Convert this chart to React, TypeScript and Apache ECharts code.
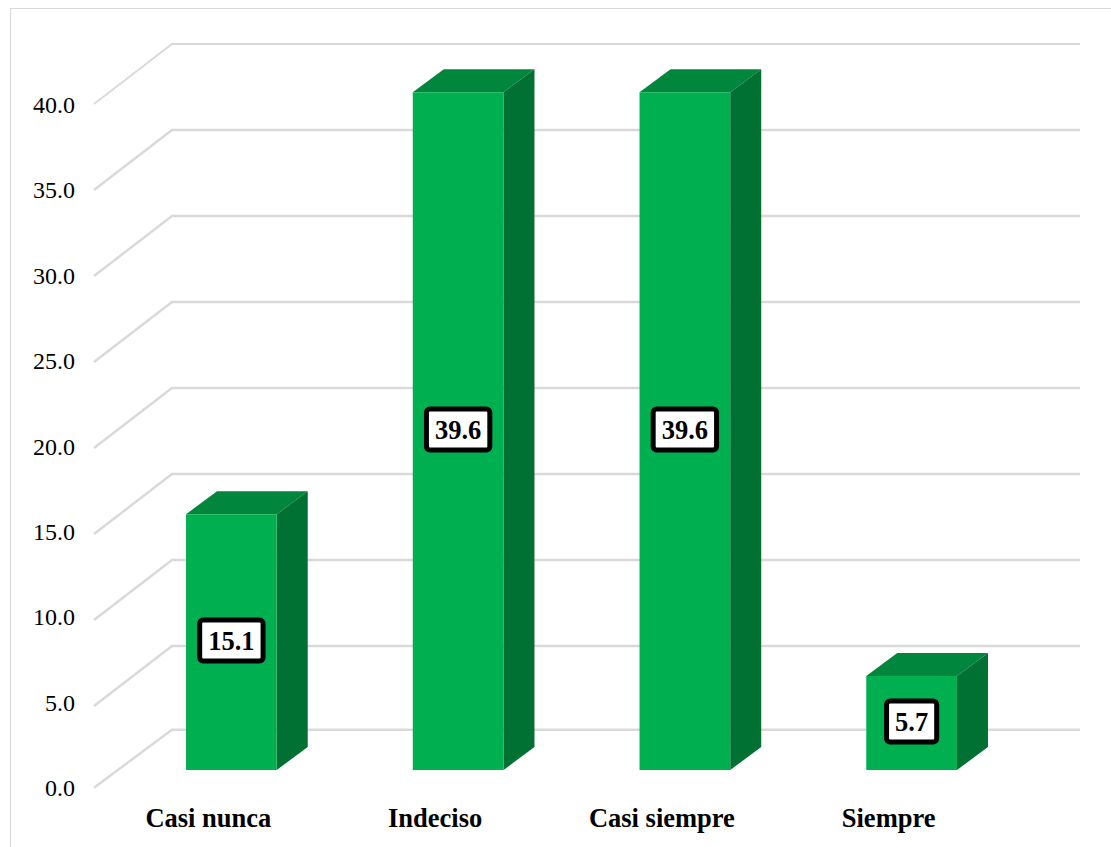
import React, { useEffect, useRef } from "react";
import * as echarts from "echarts";

const categories = ["Casi nunca", "Indeciso", "Casi siempre", "Siempre"];
const values = [15.1, 39.6, 39.6, 5.7];
const tickValues = [0, 5, 10, 15, 20, 25, 30, 35, 40];

const FONT = '"Liberation Serif", "Times New Roman", serif';
const GRID = "#D9D9D9";
const FRONT = "#00B050";
const TOP = "#00863D";
const SIDE = "#007033";
const DX = 31;
const DY = -23;
const FLOOR_INSET = 4.3;

export default function App() {
  const ref = useRef<HTMLDivElement>(null);
  useEffect(() => {
    const chart = echarts.init(ref.current!, undefined, { renderer: "svg" });
    const option: any = {
      animation: false,
      backgroundColor: "#fff",
      graphic: [
        {
          type: "polyline",
          silent: true,
          shape: { points: [[10.5, 847], [10.5, 8.5], [1111, 8.5]] },
          style: { stroke: GRID, fill: "none", lineWidth: 1.2 },
        },
      ],
      grid: [
        { left: 95, top: 105, width: 907, height: 683 },
        { left: 95, top: 104, width: 985, height: 688 },
        { left: 118, top: 85.3, width: 907, height: 689 },
      ],
      xAxis: [
        {
          type: "category",
          gridIndex: 0,
          data: categories,
          axisLine: { show: false },
          axisTick: { show: false },
          axisLabel: {
            margin: 16,
            interval: 0,
            fontFamily: FONT,
            fontSize: 26.5,
            fontWeight: "bold",
            color: "#000",
          },
        },
        { type: "category", gridIndex: 1, data: categories, show: false },
        { type: "category", gridIndex: 2, data: categories, show: false },
      ],
      yAxis: [
        {
          type: "value",
          gridIndex: 0,
          min: 0,
          max: 40,
          interval: 5,
          splitLine: { show: false },
          axisLine: { show: false },
          axisTick: { show: false },
          axisLabel: {
            margin: 20,
            fontFamily: FONT,
            fontSize: 24,
            color: "#000",
            formatter: (v: number) => v.toFixed(1),
          },
        },
        { type: "value", gridIndex: 1, min: 0, max: 40, interval: 5, show: false, splitLine: { show: false } },
        { type: "value", gridIndex: 2, min: 0, max: 40, interval: 5, show: false, splitLine: { show: false } },
      ],
      series: [
        {
          type: "custom",
          name: "wall",
          xAxisIndex: 1,
          yAxisIndex: 1,
          silent: true,
          clip: false,
          z: 1,
          data: tickValues.map((v) => [0, v]),
          renderItem: (params: any, api: any) => {
            const v = api.value(1);
            const raw = api.coord([0, v])[1];
            const isFloor = v === 0;
            const y = isFloor ? raw - FLOOR_INSET : raw;
            const back = isFloor ? y - 58 : y - 60;
            const x = params.coordSys.x;
            return {
              type: "polyline",
              shape: {
                points: [
                  [x - 1, y],
                  [x + 77, back],
                  [x + params.coordSys.width, back],
                ],
              },
              style: { stroke: GRID, fill: "none", lineWidth: v === 40 ? 1.8 : 2.4 },
            };
          },
        },
        {
          type: "custom",
          name: "Porcentaje",
          xAxisIndex: 2,
          yAxisIndex: 2,
          clip: false,
          z: 5,
          data: values.map((v, i) => [i, v]),
          renderItem: (params: any, api: any) => {
            const v = api.value(1);
            const [cx, yTop] = api.coord([api.value(0), v]);
            const yBase = api.coord([api.value(0), 0])[1] - FLOOR_INSET;
            const w = api.size([1, 0])[0] * 0.4;
            const l = cx - w / 2;
            const r = cx + w / 2;
            return {
              type: "group",
              children: [
                {
                  type: "polygon",
                  shape: { points: [[l, yTop], [l + DX, yTop + DY], [r + DX, yTop + DY], [r, yTop]] },
                  style: { fill: TOP },
                },
                {
                  type: "polygon",
                  shape: { points: [[r, yTop], [r + DX, yTop + DY], [r + DX, yBase + DY], [r, yBase]] },
                  style: { fill: SIDE },
                },
                {
                  type: "rect",
                  shape: { x: l, y: yTop, width: w, height: yBase - yTop },
                  style: { fill: FRONT },
                },
                {
                  type: "text",
                  x: cx,
                  y: (yTop + yBase) / 2 - 1.5,
                  style: {
                    text: v.toFixed(1),
                    align: "center",
                    verticalAlign: "middle",
                    fontFamily: FONT,
                    fontSize: 26.5,
                    fontWeight: "bold",
                    fill: "#000",
                    backgroundColor: "#fff",
                    borderColor: "#000",
                    borderWidth: 5,
                    borderRadius: 1,
                    padding: [5, 6, 4, 6],
                  },
                },
              ],
            };
          },
        },
      ],
    };
    chart.setOption(option);
    return () => chart.dispose();
  }, []);
  return <div ref={ref} style={{ position: "fixed", left: 0, top: 0, width: 1111, height: 847 }} />;
}
